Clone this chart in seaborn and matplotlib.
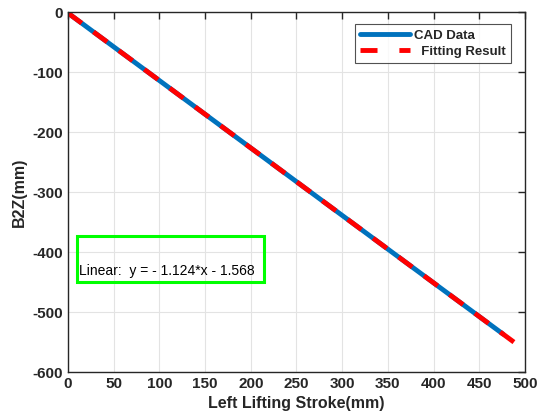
import matplotlib
matplotlib.use("Agg")
import matplotlib.pyplot as plt
import seaborn as sns
import numpy as np
import pandas as pd
from matplotlib.patches import Rectangle

# Data
cad_x = [0, 25, 50, 75, 100, 125, 150, 175, 200, 225, 250, 275, 300, 325, 350, 375, 400, 425, 450, 476]
cad_y = [-1.6, -29.7, -57.8, -85.9, -114.0, -142.1, -170.2, -198.3, -226.4, -254.5, -282.6,
         -310.7, -338.8, -366.9, -395.0, -423.1, -451.2, -479.3, -507.4, -536.6]
fit_x = [0, 488]
fit_y = [-1.568, -550.1]
x_ticks = [0, 50, 100, 150, 200, 250, 300, 350, 400, 450, 500]
y_ticks = [-600, -500, -400, -300, -200, -100, 0]

sns.set_style("white")
plt.rcParams['font.family'] = ['Liberation Sans', 'DejaVu Sans']
plt.rcParams['axes.unicode_minus'] = False

fig = plt.figure(figsize=(5.42, 4.19), dpi=100)
ax = fig.add_axes([0.1255, 0.112, 0.843, 0.859])

df_cad = pd.DataFrame({"x": cad_x, "y": cad_y})
df_fit = pd.DataFrame({"x": fit_x, "y": fit_y})
sns.lineplot(data=df_cad, x="x", y="y", ax=ax, color="#0072BD", lw=3.5, label="CAD Data")
sns.lineplot(data=df_fit, x="x", y="y", ax=ax, color="#FF0000", lw=3.5,
             linestyle=(0, (3.5, 3.0)), label="  Fitting Result")

ax.set_xlim(0, 500)
ax.set_ylim(-600, 0)
ax.set_xticks(x_ticks)
ax.set_yticks(y_ticks)
ax.grid(True, color="#e3e3e3", lw=0.8)
ax.set_axisbelow(True)
for s in ax.spines.values():
    s.set_color("#262626")
    s.set_linewidth(1.0)
ax.tick_params(direction="in", top=True, right=True, length=5, width=1, color="#262626",
               labelsize=11, labelcolor="#262626")
for lab in ax.get_xticklabels() + ax.get_yticklabels():
    lab.set_fontweight("bold")
ax.set_xlabel("Left Lifting Stroke(mm)", fontsize=11.5, fontweight="bold", color="#262626")
ax.set_ylabel("B2Z(mm)", fontsize=11.5, fontweight="bold", color="#262626")

leg = ax.legend(loc="upper right", bbox_to_anchor=(0.985, 0.985), frameon=True, fancybox=False,
                edgecolor="#262626", fontsize=9.5, handlelength=3.8, borderpad=0.4,
                labelspacing=0.3, handletextpad=0.3)
leg.get_frame().set_linewidth(0.8)
for t in leg.get_texts():
    t.set_fontweight("bold")
leg.get_lines()[1].set_linestyle((0, (3.5, 4.5)))

ax.add_patch(Rectangle((10, -450), 204, 77, transform=ax.transData, fill=False,
                       edgecolor="#00FF00", lw=2.2, zorder=5))
ax.text(12, -432, "Linear:  y = - 1.124*x - 1.568", fontsize=10, color="black",
        ha="left", va="center")

fig.savefig("out.png", dpi=100)
